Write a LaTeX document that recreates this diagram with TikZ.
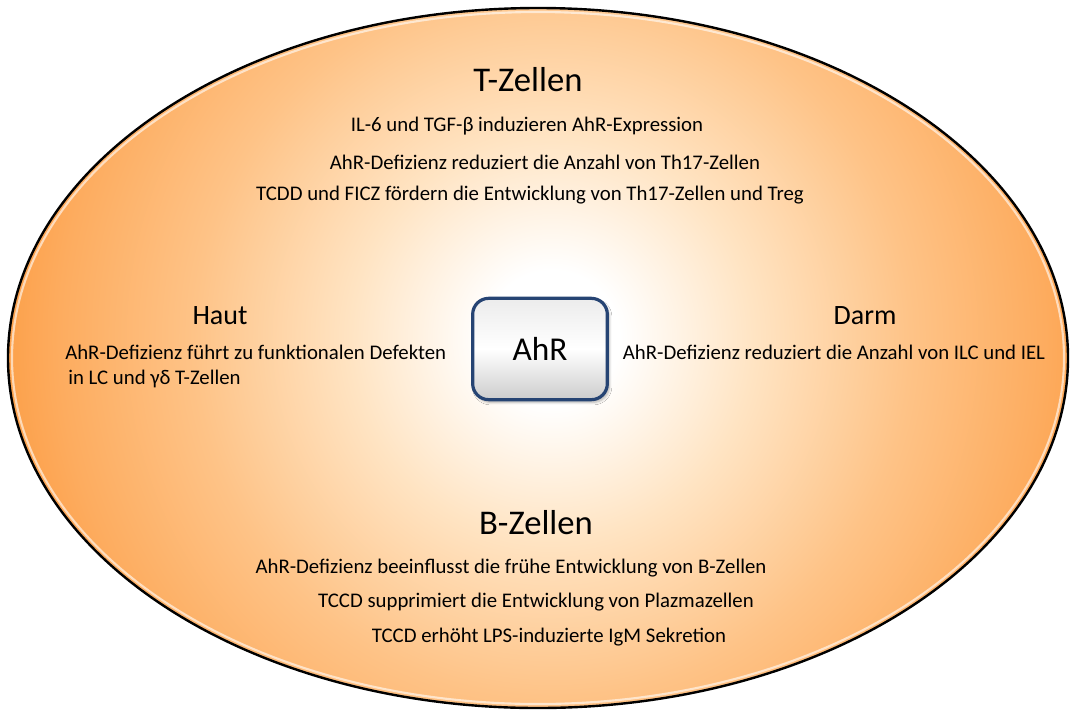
\documentclass[tikz,border=0pt]{standalone}
\usepackage{fontspec}
\setmainfont{Carlito}
\usetikzlibrary{shadows.blur}
\definecolor{ora}{RGB}{252,158,70}
\definecolor{ora2}{RGB}{253,172,95}
\definecolor{peach}{RGB}{254,195,135}
\definecolor{pale}{RGB}{255,228,195}
\definecolor{boxblue}{RGB}{38,68,115}
\pgfdeclareradialshading{ellshade}{\pgfpoint{0bp}{0bp}}{%
  color(0bp)=(white); color(3bp)=(white); color(9bp)=(pale);
  color(16bp)=(peach); color(22bp)=(ora2); color(25bp)=(ora); color(50bp)=(ora)}
\begin{document}
\begin{tikzpicture}[x=0.75pt,y=-0.75pt,
  title/.style={font=\fontsize{26}{30}\selectfont, inner sep=0pt},
  region/.style={font=\fontsize{21}{25}\selectfont, inner sep=0pt},
  body/.style={font=\fontsize{15.6}{20}\selectfont, inner sep=0pt},
  hub/.style={draw=boxblue, line width=2.4pt, rounded corners=12pt,
    minimum width=101pt, minimum height=76pt,
    top color=gray!15, bottom color=gray!40, middle color=white,
    blur shadow={shadow blur steps=6, shadow xshift=1.5pt, shadow yshift=-2pt, shadow opacity=30},
    font=\fontsize{25}{30}\selectfont}]
\useasboundingbox (0,0) rectangle (1070,711);
\fill[white] (0,0) rectangle (1070,711);
% ellipse with radial gradient
\begin{scope}
  \clip (538,358) ellipse [x radius=530, y radius=350];
  \shade[shading=ellshade] (552,338) circle [radius=560];
\end{scope}
\draw[white, opacity=0.6, line width=1.6pt] (538,358) ellipse [x radius=526, y radius=346];
\draw[black, line width=1.8pt] (538,358) ellipse [x radius=530, y radius=350];
% T-Zellen
\node[title] (tz) at (528,80) {T-Zellen};
\node[body] (t1) at (527,126) {IL-6 und TGF-β induzieren AhR-Expression};
\node[body] (t2) at (545,162) {AhR-Defizienz reduziert die Anzahl von Th17-Zellen};
\node[body] (t3) at (530,195) {TCDD und FICZ fördern die Entwicklung von Th17-Zellen und Treg};
% Haut
\node[region] (haut) at (220,316) {Haut};
\node[body, anchor=west] (h1) at (65,352) {AhR-Defizienz führt zu funktionalen Defekten};
\node[body, anchor=west] (h2) at (68,379) {in LC und γδ T-Zellen};
% Darm
\node[region] (darm) at (865,316) {Darm};
\node[body] (d1) at (834,352) {AhR-Defizienz reduziert die Anzahl von ILC und IEL};
% AhR box
\node[hub] (ahr) at (540,349) {AhR};
% B-Zellen
\node[title] (bz) at (536,523) {B-Zellen};
\node[body] (b1) at (511,568) {AhR-Defizienz beeinflusst die frühe Entwicklung von B-Zellen};
\node[body] (b2) at (536,602) {TCCD supprimiert die Entwicklung von Plazmazellen};
\node[body] (b3) at (549,637) {TCCD erhöht LPS-induzierte IgM Sekretion};
\end{tikzpicture}
\end{document}
